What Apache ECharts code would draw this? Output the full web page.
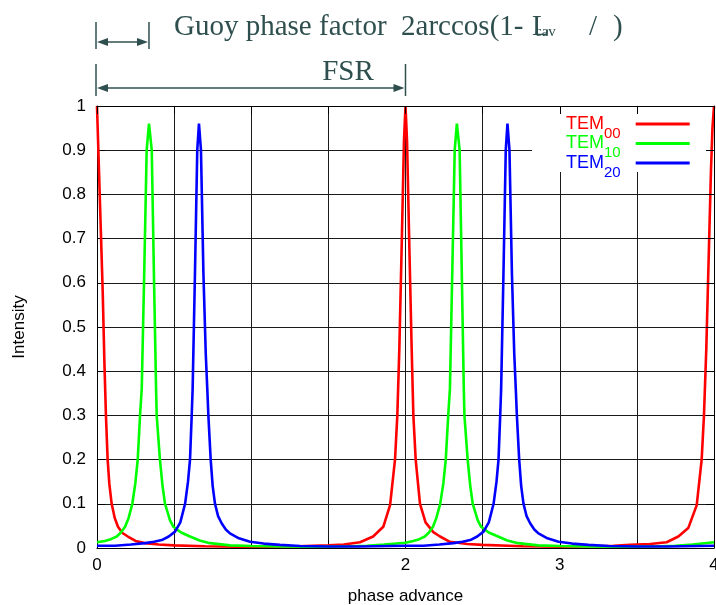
<!DOCTYPE html>
<html>
<head>
<meta charset="utf-8">
<script src="https://cdn.jsdelivr.net/npm/echarts@6/dist/echarts.min.js"></script>
<style>
html, body { margin: 0; padding: 0; background: #fff; }
#chart { width: 716px; height: 605px; }
</style>
</head>
<body>
<div id="chart"></div>
<script>
// series names and labels
var modeNames = ["TEM00", "TEM10", "TEM20"];
var modeSubs = ["00", "10", "20"];
var modeColors = ["#ff0000", "#00ff00", "#0000ff"];
var xTickValues = [0, 2, 3, 4];   // "1" is not labelled in the original

// annotation spans (phase advance units)
var guoySpan = [0, 0.337];
var fsrSpan = [0, 2];

// TEM00 [phase advance, intensity]
var tem00 = [
  [0, 1.0], [0.037, 0.58], [0.048, 0.42], [0.058, 0.30], [0.069, 0.20], [0.08, 0.145],
  [0.095, 0.10], [0.115, 0.068], [0.136, 0.048], [0.165, 0.034], [0.20, 0.026], [0.25, 0.016],
  [0.31, 0.011], [0.40, 0.008], [0.50, 0.006], [0.70, 0.004], [0.90, 0.003], [1.10, 0.003],
  [1.30, 0.004], [1.50, 0.006], [1.60, 0.008], [1.705, 0.013], [1.79, 0.026], [1.856, 0.048],
  [1.90, 0.097], [1.932, 0.20], [1.947, 0.30], [1.96, 0.45], [1.975, 0.68], [1.99, 0.92],
  [2.00, 1.0], [2.01, 0.92], [2.025, 0.68], [2.04, 0.45], [2.051, 0.30], [2.066, 0.20],
  [2.094, 0.10], [2.13, 0.058], [2.18, 0.036], [2.224, 0.026], [2.288, 0.014], [2.40, 0.009],
  [2.50, 0.007], [2.76, 0.004], [3.00, 0.003], [3.20, 0.004], [3.35, 0.005], [3.456, 0.007],
  [3.585, 0.009], [3.693, 0.013], [3.769, 0.026], [3.833, 0.045], [3.888, 0.097], [3.92, 0.20],
  [3.935, 0.30], [3.95, 0.45], [3.965, 0.65], [3.98, 0.85], [3.99, 0.95], [4.00, 1.0]
];

// TEM10
var tem10 = [
  [0, 0.013], [0.052, 0.016], [0.09, 0.020], [0.128, 0.026], [0.155, 0.035], [0.182, 0.048],
  [0.205, 0.068], [0.229, 0.10], [0.248, 0.145], [0.264, 0.20], [0.279, 0.30], [0.29, 0.36],
  [0.306, 0.62], [0.322, 0.90], [0.337, 0.96], [0.355, 0.90], [0.37, 0.60], [0.383, 0.36],
  [0.387, 0.30], [0.408, 0.20], [0.425, 0.14], [0.441, 0.10], [0.473, 0.063], [0.495, 0.048],
  [0.545, 0.035], [0.603, 0.026], [0.665, 0.017], [0.733, 0.011], [0.862, 0.006], [1.0, 0.0045],
  [1.2, 0.0035], [1.4, 0.003], [1.6, 0.0035], [1.75, 0.005], [1.86, 0.008], [2.0, 0.012],
  [2.05, 0.016], [2.09, 0.020], [2.125, 0.026], [2.152, 0.035], [2.178, 0.048], [2.20, 0.068],
  [2.225, 0.10], [2.245, 0.145], [2.261, 0.20], [2.277, 0.30], [2.288, 0.36], [2.303, 0.62],
  [2.319, 0.90], [2.333, 0.96], [2.351, 0.90], [2.366, 0.60], [2.378, 0.36], [2.382, 0.30],
  [2.403, 0.20], [2.42, 0.14], [2.436, 0.10], [2.468, 0.063], [2.49, 0.048], [2.54, 0.035],
  [2.60, 0.026], [2.66, 0.017], [2.73, 0.011], [2.86, 0.006], [3.0, 0.0045], [3.2, 0.0035],
  [3.4, 0.003], [3.6, 0.0035], [3.75, 0.005], [3.86, 0.008], [4.0, 0.013]
];

// TEM20
var tem20 = [
  [0, 0.005], [0.117, 0.005], [0.22, 0.008], [0.311, 0.011], [0.37, 0.014], [0.42, 0.018],
  [0.465, 0.026], [0.506, 0.037], [0.54, 0.058], [0.571, 0.10], [0.59, 0.15], [0.603, 0.20],
  [0.614, 0.30], [0.62, 0.36], [0.635, 0.62], [0.65, 0.90], [0.661, 0.96], [0.674, 0.90],
  [0.69, 0.62], [0.705, 0.44], [0.715, 0.36], [0.722, 0.30], [0.737, 0.20], [0.75, 0.14],
  [0.765, 0.10], [0.785, 0.072], [0.808, 0.056], [0.835, 0.042], [0.862, 0.033], [0.92, 0.022],
  [0.992, 0.014], [1.08, 0.010], [1.186, 0.007], [1.316, 0.0045], [1.5, 0.0035], [1.7, 0.0035],
  [1.9, 0.0045], [2.0, 0.005], [2.117, 0.005], [2.22, 0.008], [2.311, 0.011], [2.37, 0.014],
  [2.42, 0.018], [2.465, 0.026], [2.506, 0.037], [2.54, 0.058], [2.571, 0.10], [2.59, 0.15],
  [2.603, 0.20], [2.614, 0.30], [2.62, 0.36], [2.635, 0.62], [2.65, 0.90], [2.661, 0.96],
  [2.674, 0.90], [2.69, 0.62], [2.705, 0.44], [2.715, 0.36], [2.722, 0.30], [2.737, 0.20],
  [2.75, 0.14], [2.765, 0.10], [2.785, 0.072], [2.808, 0.056], [2.835, 0.042], [2.862, 0.033],
  [2.92, 0.022], [2.992, 0.014], [3.08, 0.010], [3.186, 0.007], [3.316, 0.0045], [3.5, 0.0035],
  [3.7, 0.0035], [3.9, 0.0045], [4.0, 0.005]
];

var modeData = [tem00, tem10, tem20];

var sans = "'Liberation Sans', Arial, sans-serif";
var serif = "'Liberation Serif', 'Times New Roman', serif";
var annColor = "#2f4f4f";
var gridColor = "#1a1a1a";

var chart = echarts.init(document.getElementById("chart"));

function frameAxis(extra) {
  var ax = {
    type: "value",
    axisLine: { show: true, onZero: false, lineStyle: { color: "#000", width: 1 } },
    axisTick: { show: true, inside: true, length: 8, lineStyle: { color: "#000", width: 1 } },
    axisLabel: { show: false },
    splitLine: { show: false },
    z: 5
  };
  return Object.assign(ax, extra);
}

var series = modeNames.map(function (name, i) {
  return {
    name: name,
    type: "line",
    data: modeData[i],
    showSymbol: false,
    symbol: "none",
    smooth: false,
    lineStyle: { color: modeColors[i], width: 2.6 },
    itemStyle: { color: modeColors[i] }
  };
});

// one legend per entry so the rows sit close together
var legends = modeNames.map(function (name, i) {
  return {
    data: [name],
    left: 566,
    top: 115 + i * 19.5,
    padding: 0,
    align: "right",
    icon: "rect",
    itemWidth: 54,
    itemHeight: 3,
    selectedMode: false,
    formatter: function () {
      return "{t|TEM}{s|" + modeSubs[i] + "}{e|}";
    },
    textStyle: {
      color: modeColors[i],
      rich: {
        t: { fontFamily: sans, fontSize: 18, color: modeColors[i], verticalAlign: "middle" },
        s: { fontFamily: sans, fontSize: 15, color: modeColors[i], verticalAlign: "bottom" },
        e: { lineHeight: 34, width: 10 }
      }
    },
    z: 6
  };
});

var option = {
  animation: false,
  backgroundColor: "#fff",
  grid: { left: 97, right: 2, top: 106, bottom: 57, containLabel: false, outerBoundsMode: "none" },
  legend: legends,
  xAxis: [
    {
      type: "value",
      min: 0,
      max: 4,
      interval: 0.5,
      name: "phase advance",
      nameLocation: "middle",
      nameGap: 40,
      nameTextStyle: { fontFamily: sans, fontSize: 17, color: "#000" },
      axisLine: { show: true, onZero: false, lineStyle: { color: "#000", width: 1 } },
      axisTick: { show: true, inside: true, length: 8, lineStyle: { color: "#000" } },
      axisLabel: {
        fontFamily: sans,
        fontSize: 17,
        color: "#000",
        margin: 9,
        formatter: function (v) {
          return xTickValues.indexOf(v) >= 0 ? String(v) : "";
        }
      },
      splitLine: { show: true, lineStyle: { color: gridColor, width: 1 } }
    },
    frameAxis({ position: "top", min: 0, max: 4, interval: 0.5 })
  ],
  yAxis: [
    {
      type: "value",
      min: 0,
      max: 1,
      interval: 0.1,
      name: "Intensity",
      nameLocation: "middle",
      nameGap: 69,
      nameRotate: 90,
      nameTextStyle: { fontFamily: sans, fontSize: 17, color: "#000" },
      axisLine: { show: true, onZero: false, lineStyle: { color: "#000", width: 1 } },
      axisTick: { show: true, inside: true, length: 8, lineStyle: { color: "#000" } },
      axisLabel: { fontFamily: sans, fontSize: 17, color: "#000", margin: 11 },
      splitLine: { show: true, lineStyle: { color: gridColor, width: 1 } }
    },
    frameAxis({ position: "right", min: 0, max: 1, interval: 0.1 })
  ],
  series: series
};

chart.setOption(option);

// annotations above the plot, placed from the x axis scale
function px(v) {
  return chart.convertToPixel({ xAxisIndex: 0 }, v);
}

function spanArrow(x1, x2, y, barTop, barBottom) {
  var st = { stroke: annColor, lineWidth: 1.5 };
  var head = 11, half = 4;
  return [
    { type: "line", shape: { x1: x1, y1: barTop, x2: x1, y2: barBottom }, style: st, z: 10 },
    { type: "line", shape: { x1: x2, y1: barTop, x2: x2, y2: barBottom }, style: st, z: 10 },
    { type: "line", shape: { x1: x1 + 4, y1: y, x2: x2 - 4, y2: y }, style: st, z: 10 },
    { type: "polygon", shape: { points: [[x1 + 1, y], [x1 + 1 + head, y - half], [x1 + 1 + head, y + half]] }, style: { fill: annColor }, z: 10 },
    { type: "polygon", shape: { points: [[x2 - 1, y], [x2 - 1 - head, y - half], [x2 - 1 - head, y + half]] }, style: { fill: annColor }, z: 10 }
  ];
}

function label(text, x, y, size, align) {
  return {
    type: "text",
    x: x,
    y: y,
    z: 10,
    style: { text: text, font: size + "px " + serif, fill: annColor, align: align || "left", verticalAlign: "middle" }
  };
}

var g0 = px(guoySpan[0]) - 1;
var g1 = px(guoySpan[1]);
var f0 = px(fsrSpan[0]) - 1;
var f1 = px(fsrSpan[1]);

var elements = [
  // white box behind the legend
  { type: "rect", shape: { x: 532, y: 107, width: 174, height: 65 }, style: { fill: "#fff" }, z: 3 }
];
elements = elements.concat(spanArrow(g0, g1, 42, 22, 49));
elements = elements.concat(spanArrow(f0, f1, 88, 64, 96));
elements.push(label("Guoy phase factor  2arccos(1-", 174, 27, 29));
elements.push(label("L", 532, 27, 29));
elements.push(label("cav", 535, 32, 15));
elements.push(label("/", 589, 27, 29));
elements.push(label(")", 613, 27, 29));
elements.push(label("FSR", 348, 72, 29, "center"));

chart.setOption({ graphic: { elements: elements } });
</script>
</body>
</html>
